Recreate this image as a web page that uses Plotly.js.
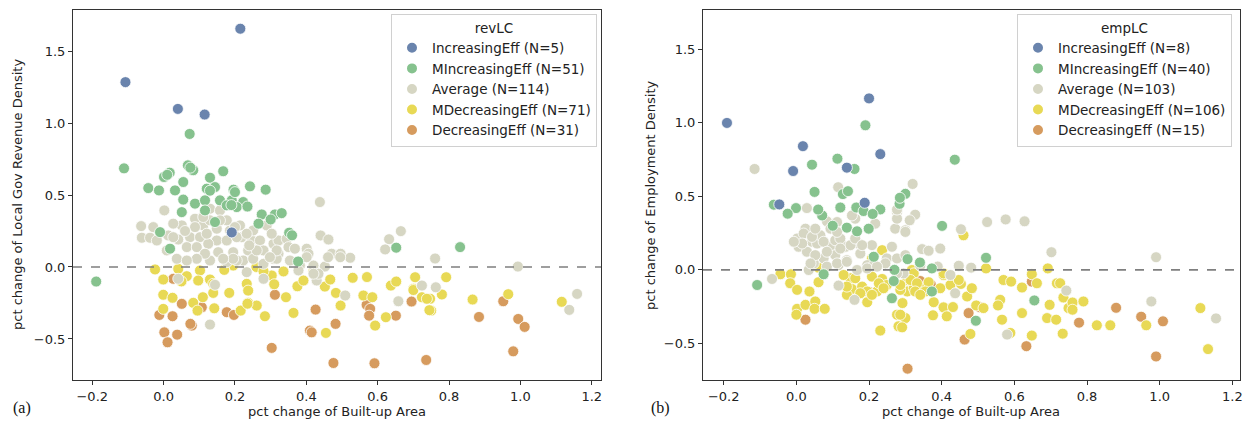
<!DOCTYPE html>
<html>
<head>
<meta charset="utf-8">
<script src="https://cdn.plot.ly/plotly-3.0.1.min.js"></script>
<style>html,body{margin:0;padding:0;background:#fff;}#chart{width:1244px;height:423px;}</style>
</head>
<body>
<div id="chart"></div>
<script>
// ---------------- Categories / legend labels ----------------
const categories = ["IncreasingEff", "MIncreasingEff", "Average", "MDecreasingEff", "DecreasingEff"];
const revCounts = [5, 51, 114, 71, 31];
const empCounts = [8, 40, 103, 106, 15];
const xTickVals = [-0.2, 0.0, 0.2, 0.4, 0.6, 0.8, 1.0, 1.2];
const yTickVals = [-0.5, 0.0, 0.5, 1.0, 1.5];

// ---------------- (a) revLC ----------------
const revInc_x = [0.215,-0.107,0.040,0.115,0.191];
const revInc_y = [1.655,1.284,1.098,1.059,0.240];

const revMInc_x = [0.073,-0.111,0.068,0.083,0.167,0.017,0.130,0.001,-0.043,-0.013,0.032,0.055,0.121,0.144,0.196,0.242,0.286,0.055,0.088,0.116,0.158,0.191,0.223,0.051,0.116,0.205,0.275,0.312,0.266,0.144,-0.010,0.018,0.177,0.331,0.352,0.652,0.831,-0.189,0.010,0.075,0.130,0.200,0.190,0.360,0.300,0.377,0.235];
const revMInc_y = [0.924,0.685,0.706,0.672,0.665,0.655,0.620,0.625,0.548,0.532,0.532,0.590,0.544,0.555,0.537,0.560,0.537,0.468,0.440,0.463,0.463,0.463,0.451,0.381,0.393,0.416,0.365,0.365,0.301,0.312,0.242,0.127,0.428,0.374,0.238,0.134,0.138,-0.101,0.640,0.690,0.530,0.520,0.430,0.220,0.330,0.038,0.420];

const revAvg_x = [0.002,-0.063,-0.061,-0.038,0.013,0.041,0.074,0.102,0.051,0.088,0.130,0.158,0.111,0.149,0.149,0.125,0.153,0.195,0.214,0.219,0.247,0.270,0.237,0.280,0.308,0.289,0.037,0.186,0.088,0.027,0.223,0.438,0.440,0.462,0.322,0.345,0.350,0.368,0.401,0.406,0.322,0.354,0.471,0.496,0.523,0.420,0.452,0.632,0.665,0.621,0.761,0.993,0.763,1.159,1.137,0.130,0.144,0.509,0.429,0.658,0.724,0.461,0.434,0.382,0.130,0.177,0.205,0.251,0.280,0.308,0.233,0.280,0.041,0.317,0.401,0.378,0.420,0.495,-0.029,0.027,0.065,0.093,0.121,0.177,0.177,0.130,0.205,0.251,0.303,0.317,0.195,0.167,0.116,0.093,0.065,0.009,-0.019,0.158,0.111,0.200,0.233,0.261,0.298,0.240,0.060];
const revAvg_y = [0.393,0.284,0.203,0.203,0.219,0.191,0.207,0.207,0.289,0.335,0.405,0.393,0.289,0.266,0.184,0.161,0.103,0.103,0.289,0.207,0.184,0.184,0.115,0.115,0.161,0.289,0.057,0.254,0.277,0.301,0.045,0.451,0.219,0.191,0.184,0.196,0.138,0.127,0.127,0.092,0.092,0.045,0.092,0.092,0.064,0.010,0.003,0.193,0.249,0.122,0.059,0.003,-0.141,-0.187,-0.298,-0.400,-0.124,-0.198,-0.094,-0.238,-0.129,0.068,-0.047,0.010,0.045,0.033,0.045,0.057,0.022,0.057,-0.036,-0.082,-0.082,0.057,0.068,-0.024,-0.047,0.068,0.277,0.207,0.138,0.138,0.231,0.184,0.324,0.324,0.207,0.254,0.231,0.115,0.057,0.057,0.092,0.057,0.045,0.115,0.184,0.324,0.347,0.277,0.231,0.115,0.068,0.150,0.250];

const revMDec_x = [0.792,0.780,0.747,0.750,0.866,0.966,1.116,-0.024,-0.001,0.065,0.102,0.097,0.130,0.139,-0.001,0.025,-0.001,0.083,0.110,0.095,0.139,0.142,0.184,0.216,0.233,0.237,0.237,0.261,0.284,0.303,0.041,0.195,0.336,0.343,0.375,0.392,0.452,0.467,0.364,0.483,0.496,0.455,0.530,0.560,0.585,0.593,0.623,0.637,0.652,0.705,0.700,0.724,0.738,0.170,0.260,0.280,0.050,0.310,0.420,0.570,0.745,0.700,0.235];
const revMDec_y = [-0.071,-0.191,-0.221,-0.303,-0.226,-0.189,-0.242,-0.017,-0.087,-0.064,-0.024,-0.094,-0.087,-0.117,-0.193,-0.214,-0.291,-0.249,-0.210,-0.303,-0.180,-0.287,-0.180,-0.303,-0.117,-0.164,-0.249,-0.268,-0.342,-0.059,-0.013,0.010,-0.031,-0.210,-0.134,-0.094,-0.136,-0.087,-0.319,-0.180,-0.268,-0.458,-0.075,-0.198,-0.210,-0.407,-0.349,-0.129,-0.101,-0.071,-0.152,-0.210,-0.221,-0.020,0.000,-0.030,-0.100,-0.120,-0.030,-0.070,-0.300,-0.160,-0.255];

const revDec_x = [0.952,0.884,0.994,1.012,0.980,0.027,0.051,-0.012,0.025,0.107,0.177,0.197,0.079,0.002,0.038,0.011,0.312,0.303,0.426,0.410,0.415,0.482,0.569,0.579,0.576,0.651,0.695,0.476,0.591,0.736,0.075];
const revDec_y = [-0.238,-0.347,-0.361,-0.416,-0.586,-0.082,-0.256,-0.333,-0.342,-0.280,-0.314,-0.333,-0.407,-0.454,-0.470,-0.523,-0.193,-0.562,-0.296,-0.442,-0.454,-0.395,-0.263,-0.291,-0.338,-0.338,-0.240,-0.667,-0.669,-0.646,-0.395];

// ---------------- (b) empLC ----------------
const empInc_x = [-0.191,0.200,0.018,0.231,-0.009,0.139,0.188,-0.047];
const empInc_y = [0.999,1.166,0.841,0.787,0.672,0.695,0.456,0.445];

const empMInc_x = [0.190,0.043,0.113,0.160,0.050,0.128,0.142,-0.062,-0.001,0.121,0.165,0.231,0.284,-0.024,0.071,0.139,0.167,0.199,0.300,0.213,0.075,0.436,0.401,0.306,0.522,0.373,-0.108,0.263,0.268,0.373,0.494,0.655,0.285,0.185,0.100,0.270,0.340,0.210,0.060];
const empMInc_y = [0.983,0.715,0.756,0.686,0.530,0.515,0.535,0.443,0.420,0.424,0.424,0.411,0.449,0.382,0.370,0.287,0.262,0.280,0.517,0.089,-0.030,0.749,0.299,0.073,0.082,0.010,-0.103,-0.193,-0.076,-0.147,-0.346,-0.208,0.490,0.400,0.300,0.000,0.050,0.380,0.410];

const empAvg_x = [-0.115,0.115,0.029,0.277,0.025,0.084,0.112,0.162,0.217,0.272,0.300,0.002,0.006,0.043,0.057,0.094,0.107,0.135,0.171,0.208,0.075,0.107,0.139,0.176,0.249,0.277,0.300,0.048,0.116,0.195,0.029,0.153,0.066,0.320,0.327,0.312,0.300,0.453,0.525,0.576,0.628,0.702,0.346,0.364,0.396,0.341,0.389,0.447,0.481,0.424,-0.067,0.116,0.160,0.034,0.213,0.295,0.245,0.437,0.580,0.743,0.990,0.977,1.155,0.020,0.043,0.052,0.075,0.121,0.149,0.162,0.121,0.084,0.052,0.181,0.263,0.016,-0.007,0.094,0.112,0.277,0.277,0.084,0.112,0.139,0.167,0.195,0.222,0.277,0.039];
const empAvg_y = [0.686,0.562,0.420,0.393,0.280,0.330,0.325,0.348,0.314,0.280,0.269,0.213,0.157,0.191,0.179,0.157,0.201,0.157,0.179,0.168,0.078,0.100,0.066,0.111,0.078,0.078,0.100,0.044,0.032,0.032,0.123,0.370,0.235,0.584,0.375,0.337,0.258,0.276,0.325,0.343,0.330,0.120,0.141,0.130,0.145,0.028,0.022,0.028,0.015,-0.035,-0.062,-0.107,-0.204,-0.001,0.032,-0.024,0.044,-0.159,-0.440,-0.141,0.086,-0.215,-0.330,0.247,0.224,0.280,0.191,0.213,0.168,0.213,0.145,0.123,0.100,0.168,0.157,0.179,0.191,0.280,0.258,0.348,0.410,0.022,0.044,0.055,-0.001,0.010,0.022,-0.024,0.044];

const empMDec_x = [0.236,0.208,-0.044,-0.015,0.061,0.460,0.522,0.692,0.648,0.318,0.405,-0.017,0.002,0.036,0.061,0.002,0.000,0.025,0.052,0.050,0.078,0.149,0.153,0.181,0.195,0.195,0.222,0.236,0.231,0.281,0.277,0.292,0.300,0.139,0.249,0.291,0.305,0.323,0.350,0.364,0.378,0.376,0.405,0.414,0.431,0.424,0.453,0.470,0.495,0.479,0.570,0.591,0.621,0.662,0.561,0.555,0.566,0.621,0.589,0.648,0.697,0.717,0.735,0.690,0.715,0.733,0.749,0.323,0.726,0.760,0.760,0.790,0.827,0.864,0.963,1.112,1.133,0.130,0.162,0.208,0.227,0.176,0.208,0.240,0.139,0.286,0.305,0.286,0.314,0.332,0.327,0.355,0.341,0.405,0.396,0.447,0.483,0.515,0.286];
const empMDec_y = [0.134,0.078,-0.030,-0.030,0.015,0.235,0.010,0.010,-0.030,-0.001,-0.035,-0.091,-0.136,-0.147,-0.084,-0.265,-0.305,-0.238,-0.215,-0.265,-0.265,-0.057,-0.130,-0.114,-0.147,-0.220,-0.147,-0.062,-0.413,-0.384,-0.305,-0.226,-0.328,-0.170,-0.103,-0.391,-0.147,-0.125,-0.120,-0.084,-0.220,-0.309,-0.255,-0.316,-0.253,-0.103,-0.096,-0.181,-0.242,-0.436,-0.069,-0.080,-0.120,-0.091,-0.204,-0.242,-0.339,-0.294,-0.429,-0.447,-0.238,-0.091,-0.188,-0.328,-0.339,-0.434,-0.260,-0.024,-0.091,-0.222,-0.271,-0.215,-0.377,-0.377,-0.377,-0.260,-0.539,-0.035,-0.057,-0.046,-0.091,-0.159,-0.170,-0.125,-0.114,-0.136,-0.069,-0.103,-0.069,-0.091,-0.147,-0.147,-0.170,-0.024,-0.125,-0.069,-0.125,-0.260,-0.305];

const empDec_x = [0.025,0.306,0.341,0.474,0.506,0.463,0.648,0.633,0.778,0.880,0.949,1.009,0.990,0.200,0.370];
const empDec_y = [-0.339,-0.672,-0.076,-0.294,-0.255,-0.474,-0.080,-0.519,-0.359,-0.258,-0.319,-0.350,-0.589,-0.150,-0.100];

// ---------------- Styling ----------------
const colors = ["#6a84ad", "#86c28e", "#d6d6c3", "#e8d955", "#d69b5e"];
const W = 1244, H = 423;
const px = v => v / W, py = v => 1 - v / H;
const FONT = "DejaVu Sans, sans-serif";

function mk(x, y, idx, counts, legend, xa, ya) {
  return {
    type: "scatter", mode: "markers", x: x, y: y,
    name: categories[idx] + " (N=" + counts[idx] + ")",
    legend: legend, legendrank: idx + 1, xaxis: xa, yaxis: ya,
    marker: {size: 11, color: colors[idx], line: {color: "#ffffff", width: 0.8}},
    hoverinfo: "x+y"
  };
}

const traces = [
  mk(revDec_x, revDec_y, 4, revCounts, "legend", "x", "y"),
  mk(revMDec_x, revMDec_y, 3, revCounts, "legend", "x", "y"),
  mk(revAvg_x, revAvg_y, 2, revCounts, "legend", "x", "y"),
  mk(revMInc_x, revMInc_y, 1, revCounts, "legend", "x", "y"),
  mk(revInc_x, revInc_y, 0, revCounts, "legend", "x", "y"),
  mk(empDec_x, empDec_y, 4, empCounts, "legend2", "x2", "y2"),
  mk(empMDec_x, empMDec_y, 3, empCounts, "legend2", "x2", "y2"),
  mk(empAvg_x, empAvg_y, 2, empCounts, "legend2", "x2", "y2"),
  mk(empMInc_x, empMInc_y, 1, empCounts, "legend2", "x2", "y2"),
  mk(empInc_x, empInc_y, 0, empCounts, "legend2", "x2", "y2")
];

const axisCommon = {
  showgrid: false, zeroline: false, showline: true, mirror: true,
  linecolor: "#333", linewidth: 1, ticks: "outside", ticklen: 4, tickwidth: 1,
  tickcolor: "#333", tickformat: ".1f",
  tickfont: {family: FONT, size: 13, color: "#222"}
};
const yDomain = [py(380), py(10)];

function legendDef(title, xRight) {
  return {
    title: {text: title, side: "top center", font: {family: FONT, size: 13.5, color: "#222"}},
    x: px(xRight), xanchor: "right", y: py(14), yanchor: "top",
    bgcolor: "rgba(255,255,255,0.85)", bordercolor: "#d0d0d0", borderwidth: 1,
    font: {family: FONT, size: 13.5, color: "#222"}, itemsizing: "constant"
  };
}

const titleFont = {family: FONT, size: 13, color: "#222"};
const layout = {
  width: W, height: H, margin: {l: 0, r: 0, t: 0, b: 0},
  paper_bgcolor: "#fff", plot_bgcolor: "#fff", showlegend: true,
  font: {family: FONT, color: "#222"},
  xaxis: Object.assign({}, axisCommon, {domain: [px(73), px(601)], range: [-0.254, 1.226], tickvals: xTickVals, anchor: "y"}),
  yaxis: Object.assign({}, axisCommon, {domain: yDomain, range: [-0.785, 1.785], tickvals: yTickVals, anchor: "x"}),
  xaxis2: Object.assign({}, axisCommon, {domain: [px(703), px(1240)], range: [-0.257, 1.221], tickvals: xTickVals, anchor: "y2"}),
  yaxis2: Object.assign({}, axisCommon, {domain: yDomain, range: [-0.749, 1.767], tickvals: yTickVals, anchor: "x2"}),
  legend: legendDef("revLC", 597),
  legend2: legendDef("empLC", 1232),
  shapes: [
    {type: "line", xref: "x domain", yref: "y", x0: 0, x1: 1, y0: 0, y1: 0, layer: "above",
     line: {color: "#7f7f7f", width: 1.6, dash: "dash"}},
    {type: "line", xref: "x2 domain", yref: "y2", x0: 0, x1: 1, y0: 0, y1: 0, layer: "above",
     line: {color: "#7f7f7f", width: 1.6, dash: "dash"}}
  ],
  annotations: [
    {text: "pct change of Built-up Area", xref: "paper", yref: "paper", x: px(337), y: py(411), xanchor: "center", yanchor: "middle", showarrow: false, font: titleFont},
    {text: "pct change of Built-up Area", xref: "paper", yref: "paper", x: px(971), y: py(411), xanchor: "center", yanchor: "middle", showarrow: false, font: titleFont},
    {text: "pct change of Local Gov Revenue Density", xref: "paper", yref: "paper", x: px(17), y: py(195), xanchor: "center", yanchor: "middle", textangle: -90, showarrow: false, font: titleFont},
    {text: "pct change of Employment Density", xref: "paper", yref: "paper", x: px(650), y: py(195), xanchor: "center", yanchor: "middle", textangle: -90, showarrow: false, font: titleFont},
    {text: "(a)", xref: "paper", yref: "paper", x: px(22), y: py(408), xanchor: "center", yanchor: "middle", showarrow: false, font: {family: "Liberation Serif, serif", size: 16, color: "#111"}},
    {text: "(b)", xref: "paper", yref: "paper", x: px(660), y: py(408), xanchor: "center", yanchor: "middle", showarrow: false, font: {family: "Liberation Serif, serif", size: 16, color: "#111"}}
  ]
};

Plotly.newPlot("chart", traces, layout, {staticPlot: true, displayModeBar: false});
</script>
</body>
</html>
